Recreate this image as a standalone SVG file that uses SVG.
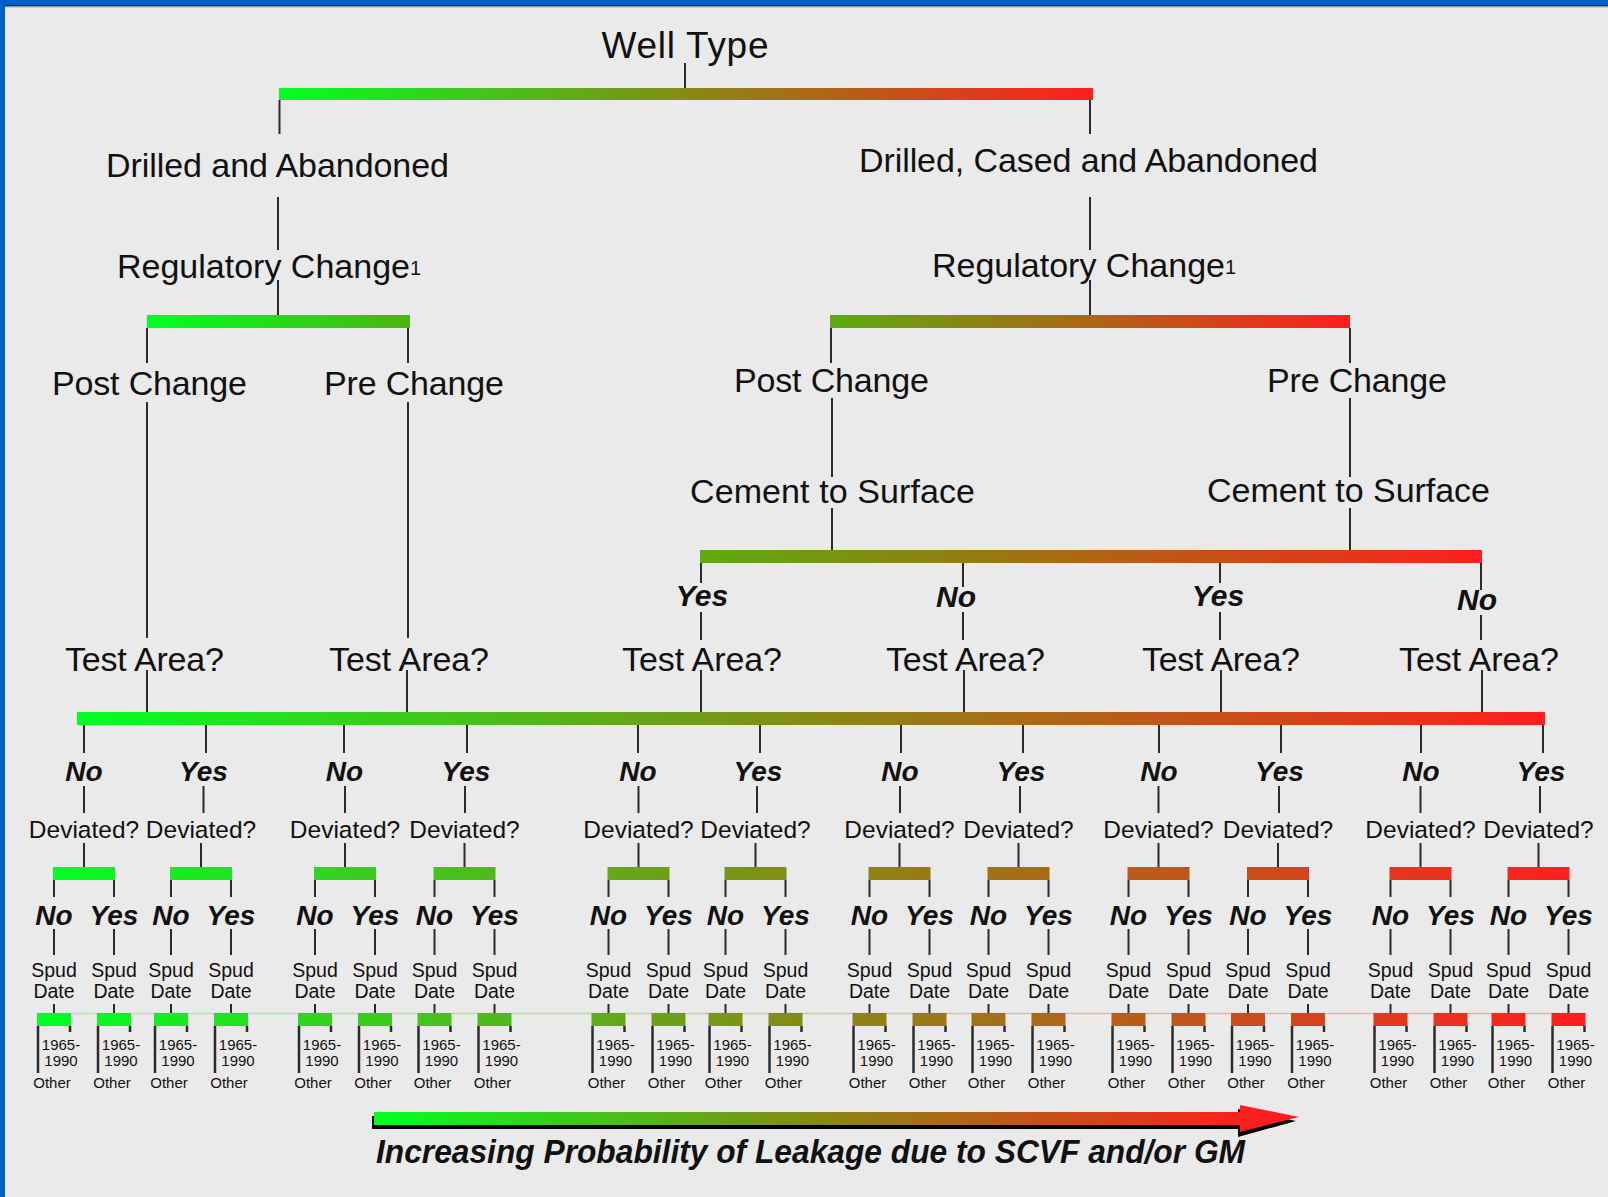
<svg xmlns="http://www.w3.org/2000/svg" width="1608" height="1197" viewBox="0 0 1608 1197">
<defs>
<linearGradient id="gFull" x1="0" y1="0" x2="1" y2="0"><stop offset="0" stop-color="#00ff22"/><stop offset="0.5" stop-color="#868a14"/><stop offset="1" stop-color="#ff1e1e"/></linearGradient>
<linearGradient id="gLeft" x1="0" y1="0" x2="1" y2="0"><stop offset="0" stop-color="#00ff22"/><stop offset="1" stop-color="#4cb412"/></linearGradient>
<linearGradient id="gRight" x1="0" y1="0" x2="1" y2="0"><stop offset="0" stop-color="#5cac0e"/><stop offset="1" stop-color="#ff1e1e"/></linearGradient>
<linearGradient id="gAll" gradientUnits="userSpaceOnUse" x1="45" y1="0" x2="1578" y2="0"><stop offset="0" stop-color="#00ff22"/><stop offset="0.5" stop-color="#868a14"/><stop offset="1" stop-color="#ff1e1e"/></linearGradient>
<linearGradient id="gArrow" gradientUnits="userSpaceOnUse" x1="374" y1="0" x2="1250" y2="0"><stop offset="0" stop-color="#00ff22"/><stop offset="0.5" stop-color="#868a14"/><stop offset="1" stop-color="#ff1e1e"/></linearGradient>
</defs>
<style>
text{font-family:"Liberation Sans",Arial,sans-serif;fill:#111;text-anchor:middle}
.big{font-size:34px}
.wt{font-size:37px}
.sup{font-size:20px}
.ans{font-size:28px;font-weight:bold;font-style:italic}
.ans30{font-size:30px;font-weight:bold;font-style:italic}
.dev{font-size:24.5px}
.sp{font-size:19.5px}
.yr{font-size:15px}
.leg{font-size:33px;font-weight:bold;font-style:italic}
.ln{stroke:#2b2b2b;stroke-width:2;fill:none}
.lnb{stroke:#2b2b2b;stroke-width:2.5;fill:none}
.sb{fill:url(#gAll)}
</style>
<rect x="0" y="0" width="1608" height="1197" fill="#eaeaea"/>
<rect x="0" y="0" width="1608" height="5" fill="#005fc6"/>
<rect x="5" y="5" width="1603" height="1.6" fill="#2a2a2a"/>
<rect x="5" y="6.6" width="1603" height="1" fill="#bdbdbd"/>
<rect x="0" y="0" width="5" height="1197" fill="#005fc6"/>

<g id="connectors">
<path class="ln" d="M685,63V88 M279.5,100V134 M1090,100V134 M278,197V250 M278,280V315 M1090,197V250 M1090,280V315
M147,328V363 M408,328V363 M831,328V363 M1350,328V363
M147,402V638 M147,670V712 M408,402V638 M407,670V712
M832,398V477 M832,508V550 M1350,398V477 M1350,508V550
M701,563V583 M701,612V640 M701,670V712
M963,563V587 M963,612V640 M964,670V712
M1220,563V583 M1220,612V640 M1221,670V712
M1481,563V590 M1481,615V640 M1482,670V712"/>
<path class="ln" d="M84,725V753 M84,786V813 M84,843V867 M54,880V897 M114,880V897 M54,929V955 M114,929V955 M54,1004V1013 M114,1004V1013
M206,725V753 M203.5,786V813 M201,843V867 M171,880V897 M231,880V897 M171,929V955 M231,929V955 M171,1004V1013 M231,1004V1013
M344,725V753 M345,786V813 M345,843V867 M315,880V897 M375,880V897 M315,929V955 M375,929V955 M315,1004V1013 M375,1004V1013
M467,725V753 M465,786V813 M464.5,843V867 M434.5,880V897 M494.5,880V897 M434.5,929V955 M494.5,929V955 M434.5,1004V1013 M494.5,1004V1013
M638,725V753 M638.5,786V813 M638.5,843V867 M608.5,880V897 M668.5,880V897 M608.5,929V955 M668.5,929V955 M608.5,1004V1013 M668.5,1004V1013
M760,725V753 M757,786V813 M755.5,843V867 M725.5,880V897 M785.5,880V897 M725.5,929V955 M785.5,929V955 M725.5,1004V1013 M785.5,1004V1013
M901,725V753 M900,786V813 M899.5,843V867 M869.5,880V897 M929.5,880V897 M869.5,929V955 M929.5,929V955 M869.5,1004V1013 M929.5,1004V1013
M1023,725V753 M1020,786V813 M1018.5,843V867 M988.5,880V897 M1048.5,880V897 M988.5,929V955 M1048.5,929V955 M988.5,1004V1013 M1048.5,1004V1013
M1159,725V753 M1158.5,786V813 M1158.5,843V867 M1128.5,880V897 M1188.5,880V897 M1128.5,929V955 M1188.5,929V955 M1128.5,1004V1013 M1188.5,1004V1013
M1281,725V753 M1279,786V813 M1278,843V867 M1248,880V897 M1308,880V897 M1248,929V955 M1308,929V955 M1248,1004V1013 M1308,1004V1013
M1421,725V753 M1420.5,786V813 M1420.5,843V867 M1390.5,880V897 M1450.5,880V897 M1390.5,929V955 M1450.5,929V955 M1390.5,1004V1013 M1450.5,1004V1013
M1543,725V753 M1540,786V813 M1538.5,843V867 M1508.5,880V897 M1568.5,880V897 M1508.5,929V955 M1568.5,929V955 M1508.5,1004V1013 M1568.5,1004V1013"/>
<path class="lnb" d="M38,1026V1073 M70,1026V1032 M98,1026V1073 M130,1026V1032
M155,1026V1073 M187,1026V1032 M215,1026V1073 M247,1026V1032
M299,1026V1073 M331,1026V1032 M359,1026V1073 M391,1026V1032
M418.5,1026V1073 M450.5,1026V1032 M478.5,1026V1073 M510.5,1026V1032
M592.5,1026V1073 M624.5,1026V1032 M652.5,1026V1073 M684.5,1026V1032
M709.5,1026V1073 M741.5,1026V1032 M769.5,1026V1073 M801.5,1026V1032
M853.5,1026V1073 M885.5,1026V1032 M913.5,1026V1073 M945.5,1026V1032
M972.5,1026V1073 M1004.5,1026V1032 M1032.5,1026V1073 M1064.5,1026V1032
M1112.5,1026V1073 M1144.5,1026V1032 M1172.5,1026V1073 M1204.5,1026V1032
M1232,1026V1073 M1264,1026V1032 M1292,1026V1073 M1324,1026V1032
M1374.5,1026V1073 M1406.5,1026V1032 M1434.5,1026V1073 M1466.5,1026V1032
M1492.5,1026V1073 M1524.5,1026V1032 M1552.5,1026V1073 M1584.5,1026V1032"/>
<line x1="37" y1="1013.5" x2="1586" y2="1013.5" stroke="url(#gAll)" stroke-width="1.5" opacity="0.3"/>
</g>

<g id="well-type"><text class="wt" x="685" y="58" textLength="167">Well Type</text><rect x="279" y="88" width="814" height="12" fill="url(#gFull)"/></g>
<g id="drilled-abandoned"><text class="big" x="277.5" y="177" textLength="343">Drilled and Abandoned</text></g>
<g id="drilled-cased"><text class="big" x="1088.5" y="172" textLength="459">Drilled, Cased and Abandoned</text></g>
<g id="reg-left"><text class="big" x="117" y="278" style="text-anchor:start">Regulatory Change<tspan class="sup" dy="-3">1</tspan></text><rect x="147" y="315" width="263" height="13" fill="url(#gLeft)"/></g>
<g id="reg-right"><text class="big" x="932" y="277" style="text-anchor:start">Regulatory Change<tspan class="sup" dy="-3">1</tspan></text><rect x="830" y="315" width="520" height="13" fill="url(#gRight)"/></g>
<g id="post-left"><text class="big" x="149.5" y="395" textLength="195">Post Change</text></g>
<g id="pre-left"><text class="big" x="414" y="395" textLength="180">Pre Change</text></g>
<g id="post-right"><text class="big" x="831.5" y="392" textLength="195">Post Change</text></g>
<g id="pre-right"><text class="big" x="1357" y="392" textLength="180">Pre Change</text></g>
<g id="cement-left"><text class="big" x="832.5" y="503" textLength="285">Cement to Surface</text></g>
<g id="cement-right"><text class="big" x="1348.5" y="502" textLength="283">Cement to Surface</text><rect x="700" y="550" width="782" height="13" fill="url(#gRight)"/></g>
<g id="cts-yes-1"><text class="ans30" x="702" y="606">Yes</text></g>
<g id="cts-no-1"><text class="ans30" x="956" y="607">No</text></g>
<g id="cts-yes-2"><text class="ans30" x="1218" y="606">Yes</text></g>
<g id="cts-no-2"><text class="ans30" x="1477" y="610">No</text></g>
<g id="test-area-1"><text class="big" x="144.5" y="671" textLength="159">Test Area?</text></g>
<g id="test-area-2"><text class="big" x="409" y="671" textLength="160">Test Area?</text></g>
<g id="test-area-3"><text class="big" x="702" y="671" textLength="160">Test Area?</text></g>
<g id="test-area-4"><text class="big" x="965.5" y="671" textLength="159">Test Area?</text></g>
<g id="test-area-5"><text class="big" x="1221" y="671" textLength="158">Test Area?</text></g>
<g id="test-area-6"><text class="big" x="1479" y="671" textLength="160">Test Area?</text></g>
<g id="test-bar"><rect x="77" y="712" width="1468" height="13" fill="url(#gFull)"/></g>

<g id="answer-1"><text class="ans" x="84" y="781">No</text></g>
<g id="answer-2"><text class="ans" x="203.5" y="781">Yes</text></g>
<g id="answer-3"><text class="ans" x="344.5" y="781">No</text></g>
<g id="answer-4"><text class="ans" x="466" y="781">Yes</text></g>
<g id="answer-5"><text class="ans" x="638" y="781">No</text></g>
<g id="answer-6"><text class="ans" x="758" y="781">Yes</text></g>
<g id="answer-7"><text class="ans" x="900" y="781">No</text></g>
<g id="answer-8"><text class="ans" x="1021" y="781">Yes</text></g>
<g id="answer-9"><text class="ans" x="1159" y="781">No</text></g>
<g id="answer-10"><text class="ans" x="1279.5" y="781">Yes</text></g>
<g id="answer-11"><text class="ans" x="1421" y="781">No</text></g>
<g id="answer-12"><text class="ans" x="1541" y="781">Yes</text></g>

<g id="deviated-1"><text class="dev" x="84" y="838">Deviated?</text><rect class="sb" x="53" y="867" width="62" height="13"/></g>
<g id="deviated-2"><text class="dev" x="201" y="838">Deviated?</text><rect class="sb" x="170" y="867" width="62" height="13"/></g>
<g id="deviated-3"><text class="dev" x="345" y="838">Deviated?</text><rect class="sb" x="314" y="867" width="62" height="13"/></g>
<g id="deviated-4"><text class="dev" x="464.5" y="838">Deviated?</text><rect class="sb" x="433.5" y="867" width="62" height="13"/></g>
<g id="deviated-5"><text class="dev" x="638.5" y="838">Deviated?</text><rect class="sb" x="607.5" y="867" width="62" height="13"/></g>
<g id="deviated-6"><text class="dev" x="755.5" y="838">Deviated?</text><rect class="sb" x="724.5" y="867" width="62" height="13"/></g>
<g id="deviated-7"><text class="dev" x="899.5" y="838">Deviated?</text><rect class="sb" x="868.5" y="867" width="62" height="13"/></g>
<g id="deviated-8"><text class="dev" x="1018.5" y="838">Deviated?</text><rect class="sb" x="987.5" y="867" width="62" height="13"/></g>
<g id="deviated-9"><text class="dev" x="1158.5" y="838">Deviated?</text><rect class="sb" x="1127.5" y="867" width="62" height="13"/></g>
<g id="deviated-10"><text class="dev" x="1278" y="838">Deviated?</text><rect class="sb" x="1247" y="867" width="62" height="13"/></g>
<g id="deviated-11"><text class="dev" x="1420.5" y="838">Deviated?</text><rect class="sb" x="1389.5" y="867" width="62" height="13"/></g>
<g id="deviated-12"><text class="dev" x="1538.5" y="838">Deviated?</text><rect class="sb" x="1507.5" y="867" width="62" height="13"/></g>

<g id="dev-answers">
<text class="ans" x="54" y="925">No</text><text class="ans" x="114" y="925">Yes</text>
<text class="ans" x="171" y="925">No</text><text class="ans" x="231" y="925">Yes</text>
<text class="ans" x="315" y="925">No</text><text class="ans" x="375" y="925">Yes</text>
<text class="ans" x="434.5" y="925">No</text><text class="ans" x="494.5" y="925">Yes</text>
<text class="ans" x="608.5" y="925">No</text><text class="ans" x="668.5" y="925">Yes</text>
<text class="ans" x="725.5" y="925">No</text><text class="ans" x="785.5" y="925">Yes</text>
<text class="ans" x="869.5" y="925">No</text><text class="ans" x="929.5" y="925">Yes</text>
<text class="ans" x="988.5" y="925">No</text><text class="ans" x="1048.5" y="925">Yes</text>
<text class="ans" x="1128.5" y="925">No</text><text class="ans" x="1188.5" y="925">Yes</text>
<text class="ans" x="1248" y="925">No</text><text class="ans" x="1308" y="925">Yes</text>
<text class="ans" x="1390.5" y="925">No</text><text class="ans" x="1450.5" y="925">Yes</text>
<text class="ans" x="1508.5" y="925">No</text><text class="ans" x="1568.5" y="925">Yes</text>
</g>

<g id="spud-1"><text class="sp"><tspan x="54" y="977">Spud</tspan><tspan x="54" y="998">Date</tspan></text><rect class="sb" x="37" y="1013" width="34" height="13"/><text class="yr"><tspan x="61" y="1050">1965-</tspan><tspan x="61" y="1066">1990</tspan></text><text class="yr" x="52" y="1088">Other</text></g>
<g id="spud-2"><text class="sp"><tspan x="114" y="977">Spud</tspan><tspan x="114" y="998">Date</tspan></text><rect class="sb" x="97" y="1013" width="34" height="13"/><text class="yr"><tspan x="121" y="1050">1965-</tspan><tspan x="121" y="1066">1990</tspan></text><text class="yr" x="112" y="1088">Other</text></g>
<g id="spud-3"><text class="sp"><tspan x="171" y="977">Spud</tspan><tspan x="171" y="998">Date</tspan></text><rect class="sb" x="154" y="1013" width="34" height="13"/><text class="yr"><tspan x="178" y="1050">1965-</tspan><tspan x="178" y="1066">1990</tspan></text><text class="yr" x="169" y="1088">Other</text></g>
<g id="spud-4"><text class="sp"><tspan x="231" y="977">Spud</tspan><tspan x="231" y="998">Date</tspan></text><rect class="sb" x="214" y="1013" width="34" height="13"/><text class="yr"><tspan x="238" y="1050">1965-</tspan><tspan x="238" y="1066">1990</tspan></text><text class="yr" x="229" y="1088">Other</text></g>
<g id="spud-5"><text class="sp"><tspan x="315" y="977">Spud</tspan><tspan x="315" y="998">Date</tspan></text><rect class="sb" x="298" y="1013" width="34" height="13"/><text class="yr"><tspan x="322" y="1050">1965-</tspan><tspan x="322" y="1066">1990</tspan></text><text class="yr" x="313" y="1088">Other</text></g>
<g id="spud-6"><text class="sp"><tspan x="375" y="977">Spud</tspan><tspan x="375" y="998">Date</tspan></text><rect class="sb" x="358" y="1013" width="34" height="13"/><text class="yr"><tspan x="382" y="1050">1965-</tspan><tspan x="382" y="1066">1990</tspan></text><text class="yr" x="373" y="1088">Other</text></g>
<g id="spud-7"><text class="sp"><tspan x="434.5" y="977">Spud</tspan><tspan x="434.5" y="998">Date</tspan></text><rect class="sb" x="417.5" y="1013" width="34" height="13"/><text class="yr"><tspan x="441.5" y="1050">1965-</tspan><tspan x="441.5" y="1066">1990</tspan></text><text class="yr" x="432.5" y="1088">Other</text></g>
<g id="spud-8"><text class="sp"><tspan x="494.5" y="977">Spud</tspan><tspan x="494.5" y="998">Date</tspan></text><rect class="sb" x="477.5" y="1013" width="34" height="13"/><text class="yr"><tspan x="501.5" y="1050">1965-</tspan><tspan x="501.5" y="1066">1990</tspan></text><text class="yr" x="492.5" y="1088">Other</text></g>
<g id="spud-9"><text class="sp"><tspan x="608.5" y="977">Spud</tspan><tspan x="608.5" y="998">Date</tspan></text><rect class="sb" x="591.5" y="1013" width="34" height="13"/><text class="yr"><tspan x="615.5" y="1050">1965-</tspan><tspan x="615.5" y="1066">1990</tspan></text><text class="yr" x="606.5" y="1088">Other</text></g>
<g id="spud-10"><text class="sp"><tspan x="668.5" y="977">Spud</tspan><tspan x="668.5" y="998">Date</tspan></text><rect class="sb" x="651.5" y="1013" width="34" height="13"/><text class="yr"><tspan x="675.5" y="1050">1965-</tspan><tspan x="675.5" y="1066">1990</tspan></text><text class="yr" x="666.5" y="1088">Other</text></g>
<g id="spud-11"><text class="sp"><tspan x="725.5" y="977">Spud</tspan><tspan x="725.5" y="998">Date</tspan></text><rect class="sb" x="708.5" y="1013" width="34" height="13"/><text class="yr"><tspan x="732.5" y="1050">1965-</tspan><tspan x="732.5" y="1066">1990</tspan></text><text class="yr" x="723.5" y="1088">Other</text></g>
<g id="spud-12"><text class="sp"><tspan x="785.5" y="977">Spud</tspan><tspan x="785.5" y="998">Date</tspan></text><rect class="sb" x="768.5" y="1013" width="34" height="13"/><text class="yr"><tspan x="792.5" y="1050">1965-</tspan><tspan x="792.5" y="1066">1990</tspan></text><text class="yr" x="783.5" y="1088">Other</text></g>
<g id="spud-13"><text class="sp"><tspan x="869.5" y="977">Spud</tspan><tspan x="869.5" y="998">Date</tspan></text><rect class="sb" x="852.5" y="1013" width="34" height="13"/><text class="yr"><tspan x="876.5" y="1050">1965-</tspan><tspan x="876.5" y="1066">1990</tspan></text><text class="yr" x="867.5" y="1088">Other</text></g>
<g id="spud-14"><text class="sp"><tspan x="929.5" y="977">Spud</tspan><tspan x="929.5" y="998">Date</tspan></text><rect class="sb" x="912.5" y="1013" width="34" height="13"/><text class="yr"><tspan x="936.5" y="1050">1965-</tspan><tspan x="936.5" y="1066">1990</tspan></text><text class="yr" x="927.5" y="1088">Other</text></g>
<g id="spud-15"><text class="sp"><tspan x="988.5" y="977">Spud</tspan><tspan x="988.5" y="998">Date</tspan></text><rect class="sb" x="971.5" y="1013" width="34" height="13"/><text class="yr"><tspan x="995.5" y="1050">1965-</tspan><tspan x="995.5" y="1066">1990</tspan></text><text class="yr" x="986.5" y="1088">Other</text></g>
<g id="spud-16"><text class="sp"><tspan x="1048.5" y="977">Spud</tspan><tspan x="1048.5" y="998">Date</tspan></text><rect class="sb" x="1031.5" y="1013" width="34" height="13"/><text class="yr"><tspan x="1055.5" y="1050">1965-</tspan><tspan x="1055.5" y="1066">1990</tspan></text><text class="yr" x="1046.5" y="1088">Other</text></g>
<g id="spud-17"><text class="sp"><tspan x="1128.5" y="977">Spud</tspan><tspan x="1128.5" y="998">Date</tspan></text><rect class="sb" x="1111.5" y="1013" width="34" height="13"/><text class="yr"><tspan x="1135.5" y="1050">1965-</tspan><tspan x="1135.5" y="1066">1990</tspan></text><text class="yr" x="1126.5" y="1088">Other</text></g>
<g id="spud-18"><text class="sp"><tspan x="1188.5" y="977">Spud</tspan><tspan x="1188.5" y="998">Date</tspan></text><rect class="sb" x="1171.5" y="1013" width="34" height="13"/><text class="yr"><tspan x="1195.5" y="1050">1965-</tspan><tspan x="1195.5" y="1066">1990</tspan></text><text class="yr" x="1186.5" y="1088">Other</text></g>
<g id="spud-19"><text class="sp"><tspan x="1248" y="977">Spud</tspan><tspan x="1248" y="998">Date</tspan></text><rect class="sb" x="1231" y="1013" width="34" height="13"/><text class="yr"><tspan x="1255" y="1050">1965-</tspan><tspan x="1255" y="1066">1990</tspan></text><text class="yr" x="1246" y="1088">Other</text></g>
<g id="spud-20"><text class="sp"><tspan x="1308" y="977">Spud</tspan><tspan x="1308" y="998">Date</tspan></text><rect class="sb" x="1291" y="1013" width="34" height="13"/><text class="yr"><tspan x="1315" y="1050">1965-</tspan><tspan x="1315" y="1066">1990</tspan></text><text class="yr" x="1306" y="1088">Other</text></g>
<g id="spud-21"><text class="sp"><tspan x="1390.5" y="977">Spud</tspan><tspan x="1390.5" y="998">Date</tspan></text><rect class="sb" x="1373.5" y="1013" width="34" height="13"/><text class="yr"><tspan x="1397.5" y="1050">1965-</tspan><tspan x="1397.5" y="1066">1990</tspan></text><text class="yr" x="1388.5" y="1088">Other</text></g>
<g id="spud-22"><text class="sp"><tspan x="1450.5" y="977">Spud</tspan><tspan x="1450.5" y="998">Date</tspan></text><rect class="sb" x="1433.5" y="1013" width="34" height="13"/><text class="yr"><tspan x="1457.5" y="1050">1965-</tspan><tspan x="1457.5" y="1066">1990</tspan></text><text class="yr" x="1448.5" y="1088">Other</text></g>
<g id="spud-23"><text class="sp"><tspan x="1508.5" y="977">Spud</tspan><tspan x="1508.5" y="998">Date</tspan></text><rect class="sb" x="1491.5" y="1013" width="34" height="13"/><text class="yr"><tspan x="1515.5" y="1050">1965-</tspan><tspan x="1515.5" y="1066">1990</tspan></text><text class="yr" x="1506.5" y="1088">Other</text></g>
<g id="spud-24"><text class="sp"><tspan x="1568.5" y="977">Spud</tspan><tspan x="1568.5" y="998">Date</tspan></text><rect class="sb" x="1551.5" y="1013" width="34" height="13"/><text class="yr"><tspan x="1575.5" y="1050">1965-</tspan><tspan x="1575.5" y="1066">1990</tspan></text><text class="yr" x="1566.5" y="1088">Other</text></g>

<g id="legend">
<path d="M372,1116H1238V1109L1296,1121L1238,1137V1129H372Z" fill="#000"/>
<path d="M374,1112H1240V1105L1299,1117L1240,1132V1125H374Z" fill="url(#gArrow)"/>
<text class="leg" x="810.5" y="1163" textLength="869" lengthAdjust="spacingAndGlyphs">Increasing Probability of Leakage due to SCVF and/or GM</text>
</g>
</svg>
